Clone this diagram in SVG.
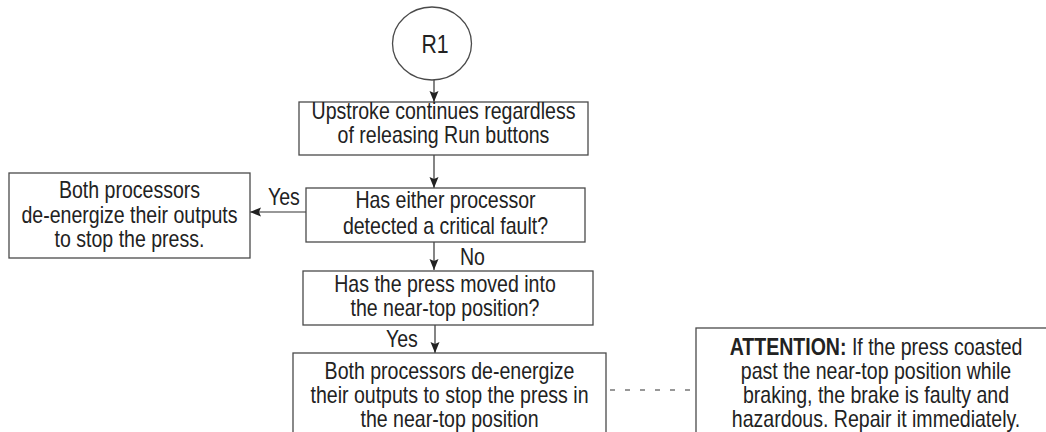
<svg xmlns="http://www.w3.org/2000/svg" width="1046" height="432" viewBox="0 0 1046 432">
<style>
.box{fill:#fff;stroke:#4a4a4a;stroke-width:1.3}
.t{font-family:"Liberation Sans",Arial,sans-serif;font-size:23px;fill:#222;text-anchor:middle}
.lbl{font-family:"Liberation Sans",Arial,sans-serif;font-size:23px;fill:#222}
.b{font-weight:bold}
.c{fill:none;stroke:#333;stroke-width:1.2}
.d{fill:none;stroke:#333;stroke-width:1.2;stroke-dasharray:5 10}
</style>
<defs>
<marker id="ah" markerUnits="userSpaceOnUse" markerWidth="12" markerHeight="10" refX="11" refY="4.5" orient="auto">
<path d="M0,0 L11,4.5 L0,9 L2,4.5 z" fill="#222"/>
</marker>
</defs>
<rect width="1046" height="432" fill="#fff"/>
<g id="connectors">
<line class="c" x1="434" y1="80" x2="434" y2="102" marker-end="url(#ah)"/>
<line class="c" x1="434" y1="155" x2="434" y2="188" marker-end="url(#ah)"/>
<line class="c" x1="306" y1="212" x2="250" y2="212" marker-end="url(#ah)"/>
<line class="c" x1="434" y1="242" x2="434" y2="270" marker-end="url(#ah)"/>
<line class="c" x1="435" y1="325" x2="435" y2="353" marker-end="url(#ah)"/>
<line class="d" x1="610" y1="390" x2="692" y2="390"/>
<g transform="translate(268 0) scale(0.85 1)"><text class="lbl" x="0" y="205">Yes</text></g>
<g transform="translate(460 0) scale(0.85 1)"><text class="lbl" x="0" y="265">No</text></g>
<g transform="translate(386 0) scale(0.85 1)"><text class="lbl" x="0" y="347">Yes</text></g>
</g>
<g id="r1">
<ellipse cx="432" cy="43.5" rx="39.5" ry="36.5" fill="#fff" stroke="#4a4a4a" stroke-width="1.3"/>
<g transform="translate(435 0) scale(0.85 1)"><text class="t" x="0" y="53" style="font-size:25px">R1</text></g>
</g>
<g id="upstroke">
<rect class="box" x="299" y="102" width="289" height="53"/>
<g transform="translate(443.5 0) scale(0.85 1)">
<text class="t" x="0" y="119">Upstroke continues regardless</text>
<text class="t" x="0" y="143">of releasing Run buttons</text>
</g>
</g>
<g id="fault">
<rect class="box" x="306" y="188" width="279" height="54"/>
<g transform="translate(445.5 0) scale(0.85 1)">
<text class="t" x="0" y="208">Has either processor</text>
<text class="t" x="0" y="234">detected a critical fault?</text>
</g>
</g>
<g id="stop">
<rect class="box" x="9" y="173" width="241" height="85"/>
<g transform="translate(129.5 0) scale(0.85 1)">
<text class="t" x="0" y="198">Both processors</text>
<text class="t" x="0" y="223">de-energize their outputs</text>
<text class="t" x="0" y="247">to stop the press.</text>
</g>
</g>
<g id="neartop">
<rect class="box" x="303" y="271" width="290" height="54"/>
<g transform="translate(445 0) scale(0.85 1)">
<text class="t" x="0" y="292">Has the press moved into</text>
<text class="t" x="0" y="316">the near-top position?</text>
</g>
</g>
<g id="stopneartop">
<rect class="box" x="293" y="353" width="313" height="95"/>
<g transform="translate(449.5 0) scale(0.85 1)">
<text class="t" x="0" y="379">Both processors de-energize</text>
<text class="t" x="0" y="403">their outputs to stop the press in</text>
<text class="t" x="0" y="427">the near-top position</text>
</g>
</g>
<g id="attention">
<rect class="box" x="696" y="328" width="370" height="120"/>
<g transform="translate(876 0) scale(0.85 1)">
<text class="t" x="0" y="355"><tspan class="b">ATTENTION:</tspan> If the press coasted</text>
<text class="t" x="0" y="379">past the near-top position while</text>
<text class="t" x="0" y="403">braking, the brake is faulty and</text>
<text class="t" x="0" y="427"> hazardous. Repair it immediately.</text>
</g>
</g>
</svg>
